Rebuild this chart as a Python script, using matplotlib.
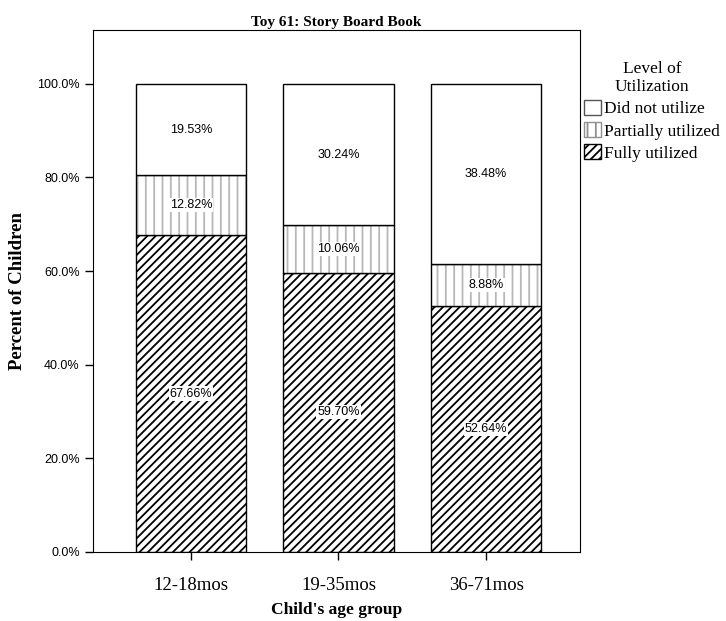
import matplotlib.pyplot as plt
from matplotlib.ticker import FuncFormatter
from matplotlib.patches import Patch

plt.rcParams['hatch.linewidth'] = 1.3

groups = ["12-18mos", "19-35mos", "36-71mos"]
fully = [67.66, 59.70, 52.64]
partial = [12.82, 10.06, 8.88]
notused = [19.53, 30.24, 38.48]

serif = "Liberation Serif"
sans = "Liberation Sans"

fig = plt.figure(figsize=(7.26, 6.21), dpi=100)
ax = fig.add_axes([93/726, 69/621, 487/726, 522/621])

x = list(range(len(groups)))
w = 0.75
bot3 = [a + b for a, b in zip(fully, partial)]

ax.bar(x, fully, w, color="white", edgecolor="black", hatch="////", lw=1)
# dotted-looking fill: light grey vertical hatch, then black outline on top
ax.bar(x, partial, w, bottom=fully, color="white", edgecolor="#b8b8b8",
       hatch="||", lw=0)
ax.bar(x, partial, w, bottom=fully, color="none", edgecolor="black", lw=1)
ax.bar(x, notused, w, bottom=bot3, color="white", edgecolor="black", lw=1)

for i in x:
    ax.text(i, fully[i] / 2, "%.2f%%" % fully[i], ha="center", va="center",
            fontsize=9, family=sans,
            bbox=dict(fc="white", ec="none", pad=0.8))
    ax.text(i, fully[i] + partial[i] / 2, "%.2f%%" % partial[i], ha="center",
            va="center", fontsize=9, family=sans,
            bbox=dict(fc="white", ec="none", pad=0.8))
    ax.text(i, bot3[i] + notused[i] / 2, "%.2f%%" % notused[i], ha="center",
            va="center", fontsize=9, family=sans)

ax.set_xlim(-0.664, 2.637)
ax.set_ylim(0, 111.5)
ax.set_yticks([0, 20, 40, 60, 80, 100])
ax.yaxis.set_major_formatter(FuncFormatter(lambda v, p: "%.1f%%" % v))
ax.set_xticks(x)
ax.set_xticklabels(groups, family=serif, fontsize=13.5)
for lab in ax.get_yticklabels():
    lab.set_family(sans)
    lab.set_fontsize(9)
ax.tick_params(axis="both", direction="out", length=6, width=1)
ax.tick_params(axis="x", pad=12)

ax.set_title("Toy 61: Story Board Book", family=serif, fontweight="bold",
             fontsize=11, pad=3)
ax.set_xlabel("Child's age group", family=serif, fontweight="bold", fontsize=12.5,
              labelpad=6)
ax.set_ylabel("Percent of Children", family=serif, fontweight="bold",
              fontsize=13.5, labelpad=8)

h1 = Patch(facecolor="white", edgecolor="black", hatch="////", lw=1)
h2 = Patch(facecolor="white", edgecolor="#909090", hatch="||", lw=1)
h3 = Patch(facecolor="white", edgecolor="#555555", lw=1)
leg = fig.legend(handles=[h3, h2, h1],
                 labels=["Did not utilize", "Partially utilized", "Fully utilized"],
                 title="Level of\nUtilization", loc="upper left",
                 bbox_to_anchor=(584/726, 1 - 61/621), frameon=False,
                 prop={"family": serif, "size": 12.5}, handlelength=1.0,
                 handleheight=1.0, handletextpad=0.15, labelspacing=0.25,
                 borderpad=0.0, borderaxespad=0.0)
leg.get_title().set_family(serif)
leg.get_title().set_fontsize(12.5)
leg.get_title().set_multialignment("center")

fig.savefig("out.png", dpi=100)
